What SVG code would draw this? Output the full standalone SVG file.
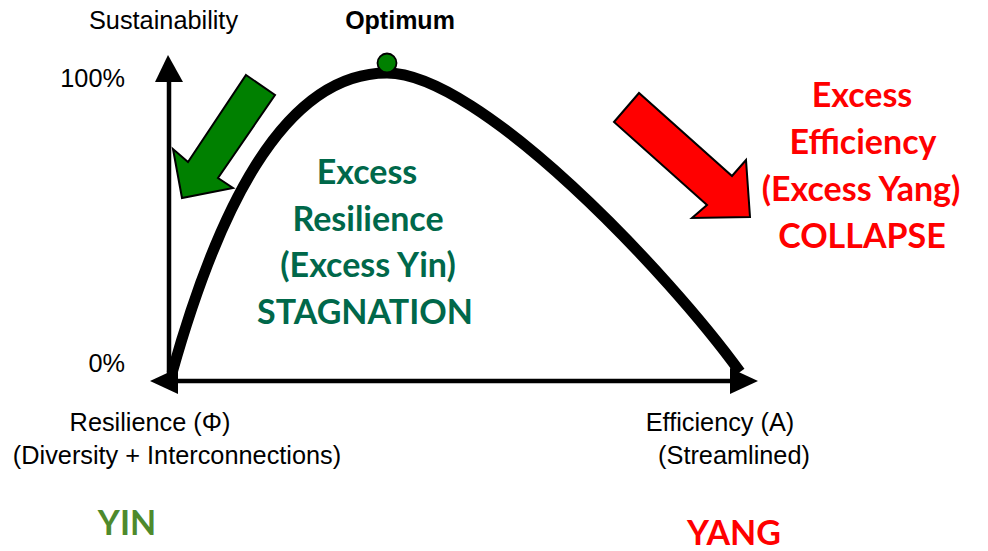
<svg xmlns="http://www.w3.org/2000/svg" width="988" height="551" viewBox="0 0 988 551">
  <style>
    .lbl { font-family: "Liberation Sans", Arial, sans-serif; font-size: 25.3px; fill: #000; }
    .lblb { font-family: "Liberation Sans", Arial, sans-serif; font-size: 25px; font-weight: bold; fill: #000; }
    .big { font-family: Lato, "Open Sans", sans-serif; font-size: 34px; font-weight: bold; text-anchor: middle; }
    .yin { fill: #00684A; }
    .yang { fill: #FF0000; }
    .axis { stroke: #000; stroke-width: 4.5; fill: none; }
    .head { fill: #000; }
    .blk { stroke: #000; stroke-width: 2; stroke-linejoin: miter; }
  </style>

  <rect width="988" height="551" fill="#fff"/>

  <!-- axes and curve -->
  <g id="connectors">
    <line class="axis" x1="169" y1="82" x2="169" y2="381"/>
    <polygon class="head" points="168,55 155,82 183,82"/>
    <line class="axis" x1="178" y1="381" x2="730" y2="381"/>
    <polygon class="head" points="150,381 178,368 178,394"/>
    <polygon class="head" points="758,381 730,368 730,394"/>
    <path id="curve" d="M172,373 C215,220 280,73 387,73 C480,73 670,275 740,372" fill="none" stroke="#000" stroke-width="11"/>
  </g>

  <g id="optimum-point">
    <circle cx="387" cy="63" r="9.5" fill="#008000" stroke="#000" stroke-width="1.8"/>
  </g>

  <g id="green-arrow">
    <polygon class="blk" fill="#008000" points="246,75 275,95 218,178 233,188 182,198 173,149 188,162"/>
  </g>

  <g id="red-arrow">
    <polygon class="blk" fill="#FF0000" points="639,93 614,122 707,205 692,218 750,217 746,160 732,176"/>
  </g>

  <g id="axis-labels">
    <text class="lbl" x="89" y="29">Sustainability</text>
    <text class="lblb" x="400" y="29" text-anchor="middle">Optimum</text>
    <text class="lbl" x="125" y="87" text-anchor="end">100%</text>
    <text class="lbl" x="125" y="372" text-anchor="end">0%</text>
    <text class="lbl" x="150" y="431" text-anchor="middle">Resilience (Φ)</text>
    <text class="lbl" x="177" y="464" text-anchor="middle">(Diversity + Interconnections)</text>
    <text class="lbl" x="720" y="431" text-anchor="middle">Efficiency (A)</text>
    <text class="lbl" x="734" y="464" text-anchor="middle">(Streamlined)</text>
  </g>

  <g id="stagnation-label">
    <text class="big yin" x="367" y="184">Excess</text>
    <text class="big yin" x="368" y="231">Resilience</text>
    <text class="big yin" x="368" y="277">(Excess Yin)</text>
    <text class="big yin" x="365" y="324">STAGNATION</text>
  </g>

  <g id="collapse-label">
    <text class="big yang" x="862" y="107">Excess</text>
    <text class="big yang" x="863" y="154">Efficiency</text>
    <text class="big yang" x="861" y="201">(Excess Yang)</text>
    <text class="big yang" x="862" y="248">COLLAPSE</text>
  </g>

  <g id="yin">
    <text class="big" x="127" y="535" fill="#4E8A2C">YIN</text>
  </g>
  <g id="yang">
    <text class="big" x="734" y="545" fill="#FF0000">YANG</text>
  </g>
</svg>
